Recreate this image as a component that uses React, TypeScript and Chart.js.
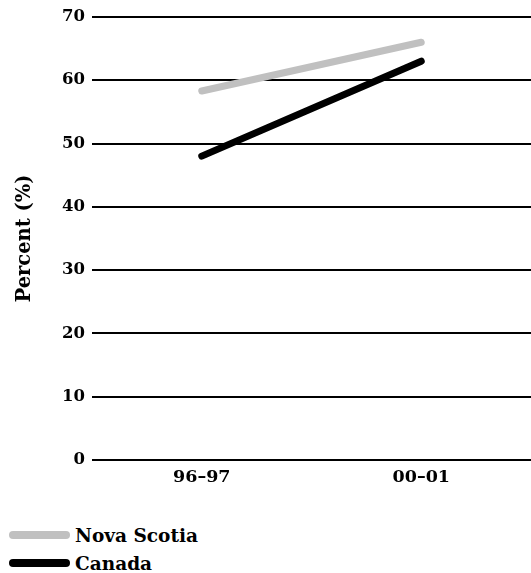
import React, { useEffect, useRef } from "react";
import { Chart, registerables } from "chart.js";

Chart.register(...registerables);

const categories = ["96–97", "00–01"];
const novaScotia = [58.3, 66];
const canada = [48, 63];
const seriesNames = ["Nova Scotia", "Canada"];
const seriesColors = ["#c0c0c0", "#000000"];
const yTitle = "Percent (%)";

const FONT = "'DejaVu Serif', serif";

export default function App() {
  const ref = useRef<HTMLCanvasElement | null>(null);

  useEffect(() => {
    if (!ref.current) return;
    const chart = new Chart(ref.current, {
      type: "line",
      data: {
        labels: categories,
        datasets: [
          {
            label: seriesNames[0],
            data: novaScotia,
            borderColor: seriesColors[0],
            backgroundColor: seriesColors[0],
            borderWidth: 7,
            borderCapStyle: "round",
            pointRadius: 0,
            tension: 0,
          },
          {
            label: seriesNames[1],
            data: canada,
            borderColor: seriesColors[1],
            backgroundColor: seriesColors[1],
            borderWidth: 7,
            borderCapStyle: "round",
            pointRadius: 0,
            tension: 0,
          },
        ],
      },
      options: {
        animation: false,
        responsive: false,
        maintainAspectRatio: false,
        layout: { padding: { top: 15, left: 0, right: 0, bottom: 0 } },
        plugins: {
          legend: { display: false },
          tooltip: { enabled: false },
        },
        scales: {
          x: {
            offset: true,
            grid: { display: false, drawTicks: false },
            border: { display: false },
            ticks: {
              color: "#000",
              padding: 7,
              font: { family: FONT, weight: "bold", size: 17.5 },
            },
            afterFit: (s: any) => {
              s.height = 30;
            },
          },
          y: {
            min: 0,
            max: 70,
            grid: { color: "#000", lineWidth: 2, drawTicks: false },
            border: { display: false },
            ticks: {
              stepSize: 10,
              color: "#000",
              padding: 7,
              font: { family: FONT, weight: "bold", size: 16.5 },
            },
            title: {
              display: true,
              text: yTitle,
              color: "#000",
              padding: { top: 13, bottom: 0 },
              font: { family: FONT, weight: "bold", size: 19.5 },
            },
            afterFit: (s: any) => {
              s.width = 92;
            },
          },
        },
      },
    });
    return () => chart.destroy();
  }, []);

  return (
    <div style={{ position: "relative", width: 531, height: 573 }}>
      <style>{"body{margin:0}"}</style>
      <canvas ref={ref} width={531} height={490} style={{ display: "block", width: 531, height: 490 }} />
      <div style={{ position: "absolute", left: 9, top: 521 }}>
        {seriesNames.map((name, i) => (
          <div key={name} style={{ display: "flex", alignItems: "center", height: 28 }}>
            <span
              style={{
                display: "inline-block",
                width: 61,
                height: 8,
                borderRadius: 4,
                background: seriesColors[i],
                marginRight: 5,
              }}
            />
            <span style={{ fontFamily: FONT, fontWeight: "bold", fontSize: 18.5, color: "#000" }}>{name}</span>
          </div>
        ))}
      </div>
    </div>
  );
}
